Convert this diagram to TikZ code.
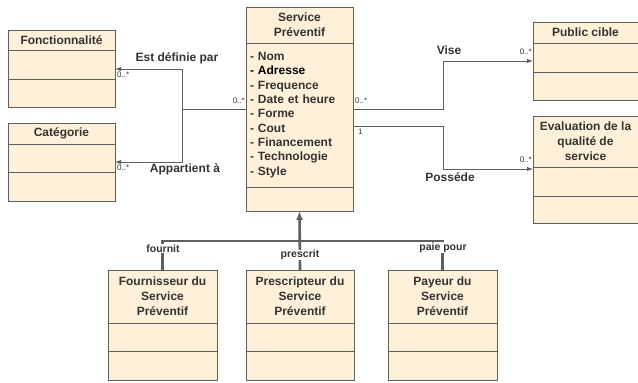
\documentclass[tikz,border=0pt]{standalone}
\usepackage{fontspec}
\setmainfont{Liberation Sans}
\usetikzlibrary{positioning,arrows.meta}
\definecolor{creme}{HTML}{FFF0D9}
\definecolor{trait}{HTML}{5F5F5F}
\definecolor{texte}{HTML}{333333}
\tikzset{classe/.style={rectangle,draw=trait,fill=creme,line width=0.9pt,outer sep=0pt,inner sep=1pt,align=center,text=texte,font=\fontsize{12}{15}\selectfont\bfseries},
compart/.style={rectangle,draw=trait,fill=creme,line width=0.9pt,outer sep=0pt,inner sep=0pt},
}

\begin{document}
\begin{tikzpicture}[x=1pt,y=1pt,
		assoc/.style={draw=trait,line width=1pt},
		fleche/.style={-{Latex[length=6pt,width=4.5pt]}},
		heritage/.style={draw=trait,line width=2.6pt},
		lien/.style={text=texte,inner sep=0pt,font=\fontsize{12}{14}\selectfont\bfseries},
		mult/.style={text=texte,inner sep=0pt,font=\fontsize{8}{9}\selectfont},
		etiq/.style={fill=white,text=texte,inner sep=0.5pt,font=\fontsize{10.5}{12}\selectfont\bfseries}]
		\useasboundingbox (0,0) rectangle (638,-383);
		
		% classe centrale
		\node[classe,anchor=north west,minimum width=107pt,minimum height=36pt] (serv) at (246,-7) {Service\\Préventif};
		\node[compart,below=0pt of serv,minimum width=107pt,minimum height=144pt,align=left,text=texte,inner sep=4pt,anchor=north,
			font=\fontsize{12}{14.3}\selectfont\bfseries,text width=99pt] (attr) {- Nom\\{\color{black}- Adresse}\\- Frequence\\- Date et heure\\- Forme\\- Cout\\- Financement\\- Technologie\\- Style};
		\node[compart,below=0pt of attr,minimum width=107pt,minimum height=24pt] (servbas) {};
		
		% classes de gauche
		\node[classe,anchor=north west,minimum width=107pt,minimum height=20pt] (fonc) at (8,-30) {Fonctionnalité};
		\node[compart,below=0pt of fonc,minimum width=107pt,minimum height=29pt] (fonc1) {};
		\node[compart,below=0pt of fonc1,minimum width=107pt,minimum height=28pt] (fonc2) {};
		
		\node[classe,anchor=north west,minimum width=107pt,minimum height=21pt] (cat) at (8,-123) {Catégorie};
		\node[compart,below=0pt of cat,minimum width=107pt,minimum height=28pt] (cat1) {};
		\node[compart,below=0pt of cat1,minimum width=107pt,minimum height=29pt] (cat2) {};
		
		% classes de droite
		\node[classe,anchor=north west,minimum width=105pt,minimum height=21pt] (pub) at (533,-22) {Public cible};
		\node[compart,below=0pt of pub,minimum width=105pt,minimum height=29pt] (pub1) {};
		\node[compart,below=0pt of pub1,minimum width=105pt,minimum height=28pt] (pub2) {};
		
		\node[classe,anchor=north west,minimum width=105pt,minimum height=51pt] (eval) at (533,-116) {Evaluation de la\\qualité de\\service};
		\node[compart,below=0pt of eval,minimum width=105pt,minimum height=29pt] (eval1) {};
		\node[compart,below=0pt of eval1,minimum width=105pt,minimum height=27pt] (eval2) {};
		
		% classes du bas
		\node[classe,anchor=north west,minimum width=109pt,minimum height=53pt] (fourn) at (108,-270) {Fournisseur du\\Service\\Préventif};
		\node[compart,below=0pt of fourn,minimum width=109pt,minimum height=28pt] (fourn1) {};
		\node[compart,below=0pt of fourn1,minimum width=109pt,minimum height=29pt] (fourn2) {};
		
		\node[classe,anchor=north west,minimum width=108pt,minimum height=53pt] (presc) at (246,-270) {Prescripteur du\\Service\\Préventif};
		\node[compart,below=0pt of presc,minimum width=108pt,minimum height=28pt] (presc1) {};
		\node[compart,below=0pt of presc1,minimum width=108pt,minimum height=29pt] (presc2) {};
		
		\node[classe,anchor=north west,minimum width=109pt,minimum height=53pt] (payeur) at (388,-270) {Payeur du\\Service\\Préventif};
		\node[compart,below=0pt of payeur,minimum width=109pt,minimum height=28pt] (payeur1) {};
		\node[compart,below=0pt of payeur1,minimum width=109pt,minimum height=29pt] (payeur2) {};
		
		% associations
		\coordinate (jg) at (182,-109);
		\coordinate (jd) at (443,-109);
		\coordinate (je) at (443,-126);
		\draw[assoc] (attr.west |- jg) -- (jg);
		\draw[assoc,fleche] (jg) |- (fonc1.east |- 0,-69);
		\draw[assoc,fleche] (jg) |- (cat1.east |- 0,-162);
		\draw[assoc,fleche] (attr.east |- jd) -- (jd) |- (pub1.west |- 0,-61);
		\draw[assoc,fleche] (attr.east |- je) -- (je) |- (eval1.west |- 0,-169);
		
		\node[lien] (l1) at (177,-58) {Est définie par};
		\node[lien] (l2) at (185,-169) {Appartient à};
		\node[lien] (l3) at (449,-50) {Vise};
		\node[lien] (l4) at (450,-177) {Posséde};
		
		\node[mult,anchor=west] (m1) at (117,-75) {0..*};
		\node[mult,anchor=west] (m2) at (117,-168) {0..*};
		\node[mult,anchor=east] (m3) at (245,-101) {0..*};
		\node[mult,anchor=west] (m4) at (355,-101) {0..*};
		\node[mult,anchor=west] (m5) at (358,-132) {1};
		\node[mult,anchor=east] (m6) at (532,-52) {0..*};
		\node[mult,anchor=east] (m7) at (532,-160) {0..*};
		
		% acteurs
		\coordinate (hb) at (300,-241);
		\draw[heritage] (fourn.north) |- (payeur.north |- hb) -- (payeur.north);
		\draw[heritage,-{Latex[length=9pt,width=7pt]}] (presc.north) -- (servbas.south);
		\node[etiq] (e1) at (163,-248.5) {fournit};
		\node[etiq] (e2) at (300,-255) {prescrit};
		\node[etiq] (e3) at (443,-247.5) {paie pour};
		\end{tikzpicture}
\end{document}
